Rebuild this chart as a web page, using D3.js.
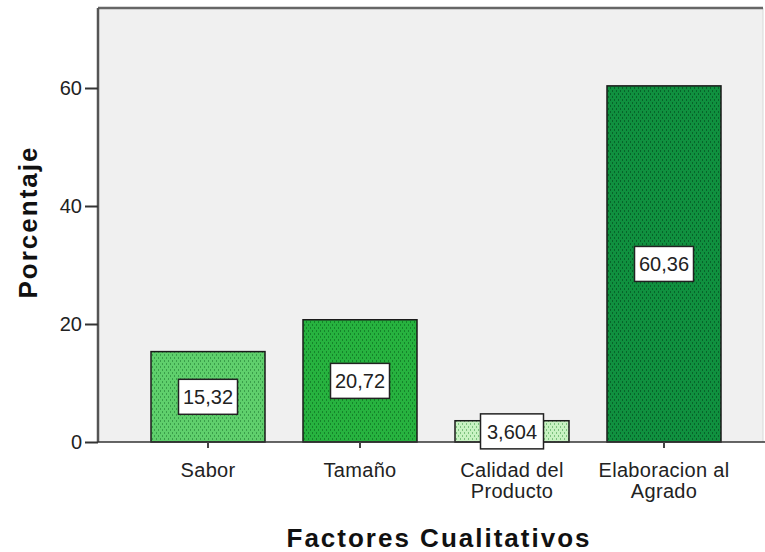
<!DOCTYPE html>
<html><head><meta charset="utf-8">
<script src="https://cdn.jsdelivr.net/npm/d3@7/dist/d3.min.js"></script>
<style>body{margin:0;background:#fff}svg{display:block}text{font-family:"Liberation Sans",Arial,sans-serif}</style>
</head><body>
<script>
const categories = [["Sabor"], ["Tamaño"], ["Calidad del", "Producto"], ["Elaboracion al", "Agrado"]];
const values = [15.32, 20.72, 3.604, 60.36];
const valueLabels = ["15,32", "20,72", "3,604", "60,36"];
const yTicks = [0, 20, 40, 60];
const fills = [["#5fcf6c", "#3a9e4a"], ["#27b23f", "#15842a"], ["#c8f2c2", "#7cc07e"], ["#10903f", "#07632a"]];

(function () {
const W = 765, H = 552;
const svg = d3.select("body").append("svg").attr("width", W).attr("height", H);
const defs = svg.append("defs");
fills.forEach((f, i) => {
  const p = defs.append("pattern").attr("id", "pat" + i).attr("patternUnits", "userSpaceOnUse")
    .attr("width", 4).attr("height", 6);
  p.append("rect").attr("width", 4).attr("height", 6).attr("fill", f[0]);
  p.append("rect").attr("x", 0).attr("y", 0).attr("width", 1).attr("height", 2).attr("fill", f[1]);
  p.append("rect").attr("x", 2).attr("y", 3).attr("width", 1).attr("height", 2).attr("fill", f[1]);
});

const pL = 98, pR = 763, pT = 8, pB = 442;
const y = d3.scaleLinear().domain([0, 73.56]).range([pB, pT]);
const x = d3.scaleBand().domain(d3.range(categories.length)).range([132, 740]).paddingInner(0.25).paddingOuter(0.125);

svg.append("rect").attr("x", pL).attr("y", pT).attr("width", pR - pL).attr("height", pB - pT).attr("fill", "#f0f0f0");
svg.append("line").attr("x1", pR).attr("x2", pR).attr("y1", pT).attr("y2", pB).attr("stroke", "#d8d8d8");
svg.append("line").attr("x1", pL).attr("x2", pR).attr("y1", pT).attr("y2", pT).attr("stroke", "#666").attr("stroke-width", 2.5);

// bars
svg.selectAll(".bar").data(values).enter().append("rect")
  .attr("x", (d, i) => x(i)).attr("width", x.bandwidth())
  .attr("y", d => y(d)).attr("height", d => pB - y(d))
  .attr("fill", (d, i) => `url(#pat${i})`).attr("stroke", "#1a1a1a").attr("stroke-width", 1.5);

// y axis
const ya = svg.append("g").attr("transform", `translate(${pL},0)`)
  .call(d3.axisLeft(y).tickValues(yTicks).tickSize(13).tickPadding(3));
ya.select(".domain").attr("d", `M0,${pT}V${pB}`).attr("stroke", "#555").attr("stroke-width", 2.5);
ya.selectAll(".tick line").attr("stroke", "#333").attr("stroke-width", 2);
ya.selectAll(".tick text").attr("font-size", 20).attr("fill", "#222");

// x axis
const xa = svg.append("g").attr("transform", `translate(0,${pB})`)
  .call(d3.axisBottom(x).tickSize(6).tickFormat(""));
xa.select(".domain").attr("d", `M${pL},0H${W}`).attr("stroke", "#333").attr("stroke-width", 1.5);
xa.selectAll(".tick line").attr("stroke", "#444").attr("stroke-width", 2);
xa.selectAll(".tick").each(function(d) {
  const t = d3.select(this).append("text").attr("fill", "#222").attr("font-size", 20)
    .attr("letter-spacing", 0.3).attr("text-anchor", "middle");
  categories[d].forEach((s, k) => t.append("tspan").attr("x", 0).attr("y", 35 + k * 21).text(s));
});

// value labels
const lab = svg.selectAll(".lab").data(values).enter().append("g")
  .attr("transform", (d, i) => `translate(${x(i) + x.bandwidth() / 2},${y(d / 2)})`);
lab.append("rect").attr("x", (d, i) => i === 2 ? -31.5 : -29.5).attr("width", (d, i) => i === 2 ? 63 : 59)
  .attr("y", -17.5).attr("height", 35).attr("fill", "#fff").attr("stroke", "#222").attr("stroke-width", 1.5);
lab.append("text").attr("text-anchor", "middle").attr("dy", "0.36em").attr("font-size", 20).attr("fill", "#222")
  .text((d, i) => valueLabels[i]);

// titles
svg.append("text").attr("x", 439).attr("y", 547).attr("text-anchor", "middle").attr("font-size", 26)
  .attr("letter-spacing", 2).attr("font-weight", "bold").attr("fill", "#111").text("Factores Cualitativos");
svg.append("text").attr("transform", "translate(37,222) rotate(-90)").attr("text-anchor", "middle").attr("font-size", 26)
  .attr("letter-spacing", 2).attr("font-weight", "bold").attr("fill", "#111").text("Porcentaje");
})();
</script>
</body></html>
